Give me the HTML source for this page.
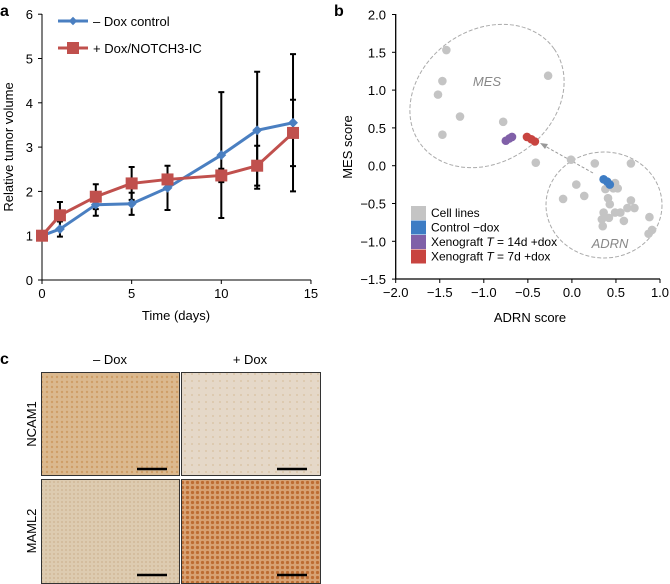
<!DOCTYPE html>
<html><head><meta charset="utf-8"><style>
body{margin:0;background:#fff;width:670px;height:584px;overflow:hidden}
svg{font-family:"Liberation Sans",sans-serif;display:block}
</style></head><body>
<svg id="fig" width="670" height="584">
<defs>
<pattern id="p1" width="5" height="5" patternUnits="userSpaceOnUse"><rect width="5" height="5" fill="#dbb98f"/><circle cx="2" cy="2" r="1.2" fill="#cf9f68"/></pattern>
<pattern id="p2" width="7" height="7" patternUnits="userSpaceOnUse"><rect width="7" height="7" fill="#e5d8c8"/><circle cx="3" cy="3" r="1" fill="#dbc5a8"/></pattern>
<pattern id="p3" width="4" height="4" patternUnits="userSpaceOnUse"><rect width="4" height="4" fill="#ddcbb0"/><circle cx="2" cy="2" r="0.9" fill="#cdb391"/></pattern>
<pattern id="p4" width="5" height="5" patternUnits="userSpaceOnUse"><rect width="5" height="5" fill="#d8a273"/><circle cx="2.5" cy="2.5" r="1.6" fill="#bd6c32"/></pattern>
</defs>
<text x="0" y="16" font-size="16" font-weight="bold">a</text>
<text x="334" y="16" font-size="16" font-weight="bold">b</text>
<text x="0" y="364" font-size="16" font-weight="bold">c</text>
<g id="ga"></g><g id="gb"></g>
<g>
<text x="110" y="364" font-size="13" text-anchor="middle">– Dox</text>
<text x="250" y="364" font-size="13" text-anchor="middle">+ Dox</text>
<text transform="translate(36,424) rotate(-90)" font-size="13" text-anchor="middle">NCAM1</text>
<text transform="translate(36,531) rotate(-90)" font-size="13" text-anchor="middle">MAML2</text>
<rect x="41.5" y="372.5" width="138" height="103" fill="url(#p1)" stroke="#333"/>
<rect x="181.5" y="372.5" width="139" height="103" fill="url(#p2)" stroke="#333"/>
<rect x="41.5" y="479.5" width="138" height="104" fill="url(#p3)" stroke="#333"/>
<rect x="181.5" y="479.5" width="139" height="104" fill="url(#p4)" stroke="#333"/>
<g stroke="#000" stroke-width="2.5">
<line x1="137" y1="469" x2="167" y2="469"/>
<line x1="277" y1="469" x2="307" y2="469"/>
<line x1="137" y1="575" x2="167" y2="575"/>
<line x1="277" y1="575" x2="307" y2="575"/>
</g></g>
</svg>
<script>
const NS="http://www.w3.org/2000/svg";
// Panel a data
const days=[0,1,3,5,7,10,12,14];
const ctrlVals=[1,1.15,1.7,1.72,2.08,2.82,3.38,3.55];
const ctrlErr=[0,0.17,0.25,0.25,0.5,1.42,1.32,1.55];
const doxVals=[1,1.46,1.88,2.18,2.27,2.36,2.58,3.32];
const doxErr=[0,0.3,0.28,0.37,0.1,0.15,0.45,0.75];
const aXTicks=[0,5,10,15];
const aYTicks=[0,1,2,3,4,5,6];
// Panel b data
const cellX=[-1.425,-1.47,-1.52,-1.27,-1.47,-0.27,-0.78,-0.41,-0.01,0.26,0.67,0.05,0.14,-0.10,0.38,0.49,0.52,0.41,0.43,0.67,0.63,0.71,0.36,0.49,0.55,0.42,0.34,0.59,0.35,0.88,0.91,0.87,0.47];
const cellY=[1.53,1.12,0.94,0.65,0.41,1.19,0.58,0.04,0.08,0.03,0.03,-0.25,-0.40,-0.44,-0.31,-0.23,-0.30,-0.43,-0.51,-0.46,-0.56,-0.56,-0.62,-0.62,-0.62,-0.69,-0.71,-0.73,-0.80,-0.68,-0.85,-0.90,-0.30];
const ctrlX=[0.36,0.40,0.43], ctrlY=[-0.18,-0.21,-0.25];
const x14X=[-0.75,-0.71,-0.68], x14Y=[0.33,0.36,0.38];
const x7X=[-0.51,-0.46,-0.42], x7Y=[0.38,0.35,0.32];
const bXTicks=[-2,-1.5,-1,-0.5,0,0.5,1];
const bYTicks=[-1.5,-1,-0.5,0,0.5,1,1.5,2];

function el(t,a,p){const e=document.createElementNS(NS,t);for(const k in a)e.setAttribute(k,a[k]);p.appendChild(e);return e;}
const ga=document.getElementById('ga'), gb=document.getElementById('gb');
const ax=v=>42+v*17.93, ay=v=>280-v*44.3;
let e=el('line',{x1:42,y1:14,x2:42,y2:280,stroke:'#000'},ga);


e=el('line',{x1:42,y1:280,x2:311,y2:280,stroke:'#000'},ga);


aYTicks.forEach(v=>{el('line',{x1:38,x2:42,y1:ay(v),y2:ay(v),stroke:'#000'},ga);
 e=el('text',{x:33,y:ay(v)+5,'font-size':13,'text-anchor':'end'},ga);e.textContent=v;
 
 });
aXTicks.forEach(v=>{el('line',{x1:ax(v),x2:ax(v),y1:280,y2:284,stroke:'#000'},ga);
 e=el('text',{x:ax(v),y:298,'font-size':13,'text-anchor':'middle'},ga);e.textContent=v;
 
 });
e=el('text',{x:176,y:320,'font-size':13,'text-anchor':'middle'},ga);e.textContent='Time (days)';


e=el('text',{transform:'translate(13,147) rotate(-90)','font-size':13,'text-anchor':'middle'},ga);e.textContent='Relative tumor volume';


function errs(vals,er){days.forEach((d,i)=>{if(!er[i])return;const x=ax(d),t=ay(vals[i]+er[i]),b=ay(vals[i]-er[i]);
 e=el('path',{d:`M${x},${t}V${b}M${x-3},${t}H${x+3}M${x-3},${b}H${x+3}`,stroke:'#000','stroke-width':2,fill:'none'},ga);
 
 });}
errs(ctrlVals,ctrlErr);errs(doxVals,doxErr);
function line(vals,col,name){e=el('polyline',{points:days.map((d,i)=>ax(d)+','+ay(vals[i])).join(' '),stroke:col,'stroke-width':3,fill:'none'},ga);
 
 }
line(ctrlVals,'#4a7fc1','control');line(doxVals,'#c0504d','dox');
days.forEach((d,i)=>{e=el('rect',{x:ax(d)-3.5,y:ay(ctrlVals[i])-3.5,width:7,height:7,fill:'#4a7fc1',transform:`rotate(45 ${ax(d)} ${ay(ctrlVals[i])})`},ga);
 
 
 e=el('rect',{x:ax(d)-6,y:ay(doxVals[i])-6,width:12,height:12,fill:'#c0504d'},ga);
 
 });
el('line',{x1:58,x2:88,y1:21,y2:21,stroke:'#4a7fc1','stroke-width':3},ga);
el('rect',{x:70,y:18,width:6,height:6,fill:'#4a7fc1',transform:'rotate(45 73 21)'},ga);
e=el('text',{x:93,y:26,'font-size':13},ga);e.textContent='– Dox control';


el('line',{x1:58,x2:88,y1:48,y2:48,stroke:'#c0504d','stroke-width':3},ga);
el('rect',{x:67,y:42,width:12,height:12,fill:'#c0504d'},ga);
e=el('text',{x:93,y:53,'font-size':13},ga);e.textContent='+ Dox/NOTCH3-IC';



const bx=v=>395.7+(v+2)*88.1, by=v=>165.7-v*75.6;
e=el('line',{x1:395.7,y1:14,x2:395.7,y2:279,stroke:'#000','stroke-width':1.3},gb);


e=el('line',{x1:395.7,y1:279,x2:660,y2:279,stroke:'#000','stroke-width':1.3},gb);


bYTicks.forEach(v=>{el('line',{x1:392,x2:396,y1:by(v),y2:by(v),stroke:'#000'},gb);
 e=el('text',{x:386,y:by(v)+5,'font-size':13,'text-anchor':'end'},gb);e.textContent=(v<0?'−':'')+Math.abs(v).toFixed(1);
 
 });
bXTicks.forEach(v=>{el('line',{x1:bx(v),x2:bx(v),y1:279,y2:283,stroke:'#000'},gb);
 e=el('text',{x:bx(v),y:297,'font-size':13,'text-anchor':'middle'},gb);e.textContent=(v<0?'−':'')+Math.abs(v).toFixed(1);
 
 });
e=el('text',{x:530,y:322,'font-size':13,'text-anchor':'middle'},gb);e.textContent='ADRN score';


e=el('text',{transform:'translate(352,147) rotate(-90)','font-size':13,'text-anchor':'middle'},gb);e.textContent='MES score';


e=el('ellipse',{cx:487,cy:96,rx:82,ry:66,transform:'rotate(-35 487 96)',fill:'none',stroke:'#aaa','stroke-dasharray':'4,2'},gb);


e=el('ellipse',{cx:604,cy:205,rx:58,ry:53,fill:'none',stroke:'#aaa','stroke-dasharray':'4,2'},gb);


e=el('text',{x:487,y:86,'font-size':13,'font-style':'italic',fill:'#888','text-anchor':'middle'},gb);e.textContent='MES';


e=el('text',{x:610,y:248,'font-size':13,'font-style':'italic',fill:'#888','text-anchor':'middle'},gb);e.textContent='ADRN';


e=el('path',{d:'M593,173 L543,145',stroke:'#999','stroke-dasharray':'3,2',fill:'none'},gb);


el('path',{d:'M540,143 L548,144 L545,149 Z',fill:'#999'},gb);
function pts(X,Y,col,name){X.forEach((x,i)=>{e=el('circle',{cx:bx(x),cy:by(Y[i]),r:4.3,fill:col},gb);
 
 });}
pts(cellX,cellY,'#c4c4c4','cell-line-point');
pts(ctrlX,ctrlY,'#3d7cc4','control-dox-point');
pts(x14X,x14Y,'#8060a8','xenograft-14d-point');
pts(x7X,x7Y,'#c84440','xenograft-7d-point');
const leg=[['#c4c4c4','Cell lines'],['#3d7cc4','Control −dox'],['#8060a8','Xenograft <tspan font-style="italic">T</tspan> = 14d +dox'],['#c84440','Xenograft <tspan font-style="italic">T</tspan> = 7d +dox']];
leg.forEach((l,i)=>{const y=206+i*14.5;el('rect',{x:411,y:y,width:15,height:14,fill:l[0]},gb);
 e=el('text',{x:431,y:y+11,'font-size':12},gb);e.innerHTML=l[1];
 
 });
</script>
</body></html>
